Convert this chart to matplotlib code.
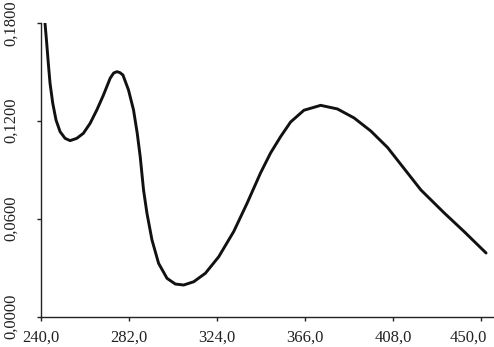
import matplotlib
matplotlib.use("Agg")
import matplotlib.pyplot as plt
import matplotlib.transforms as mtransforms

# Wavelength (nm) and absorbance
wavelength = [242.06, 242.87, 243.63, 244.45, 245.74, 247.31, 249.23, 251.62, 254.01, 257.21,
              260.36, 263.57, 266.77, 269.92, 273.13, 274.80, 276.33, 277.67, 279.20, 281.87,
              284.26, 286.03, 287.47, 289.04, 290.67, 293.06, 296.21, 300.23, 304.20, 308.17,
              312.95, 318.54, 324.89, 332.07, 338.47, 344.83, 349.61, 354.39, 359.17, 365.53,
              373.51, 381.49, 389.43, 397.41, 405.40, 414.95, 421.31, 432.45, 442.01, 452.39]
absorbance = [0.1796, 0.1674, 0.1551, 0.1429, 0.1307, 0.1204, 0.1133, 0.1092, 0.1078, 0.1092,
              0.1123, 0.1184, 0.1266, 0.1357, 0.1460, 0.1492, 0.1500, 0.1495, 0.1480, 0.1388,
              0.1266, 0.1123, 0.0978, 0.0776, 0.0633, 0.0470, 0.0327, 0.0235, 0.0200, 0.0194,
              0.0214, 0.0266, 0.0367, 0.0522, 0.0696, 0.0880, 0.1002, 0.1102, 0.1192, 0.1264,
              0.1294, 0.1272, 0.1217, 0.1137, 0.1036, 0.0880, 0.0776, 0.0635, 0.0520, 0.0390]

x_ticks = [240, 282, 324, 366, 408, 450]
x_labels = ["240,0", "282,0", "324,0", "366,0", "408,0", "450,0"]
y_ticks = [0.0, 0.06, 0.12, 0.18]
y_labels = ["0,0000", "0,0600", "0,1200", "0,1800"]

plt.rcParams['font.family'] = ['Liberation Serif', 'DejaVu Serif']

fig = plt.figure(figsize=(4.94, 3.47), dpi=100)
ax = fig.add_axes([0.0824, 0.0873, 0.998 - 0.0824, 0.9346 - 0.0873])

ax.plot(wavelength, absorbance, color='#111111', linewidth=2.1,
        solid_capstyle='round', solid_joinstyle='round')

ax.set_xlim(240, 455.7)
ax.set_ylim(0, 0.18)

ax.set_xticks(x_ticks)
ax.set_xticklabels(x_labels)
ax.set_yticks(y_ticks)
ax.set_yticklabels(y_labels, rotation=90, va='center')

for side in ['top', 'right']:
    ax.spines[side].set_visible(False)
for side in ['left', 'bottom']:
    ax.spines[side].set_linewidth(1.0)
    ax.spines[side].set_color('#222222')

ax.tick_params(axis='x', direction='out', length=3, width=1.0, pad=6.5,
               labelsize=12, colors='#222222')
ax.tick_params(axis='y', direction='out', length=3, width=1.0, pad=12.5,
               labelsize=12, colors='#222222')

# keep the last x label inside the picture, as in the reference
last = ax.get_xticklabels()[-1]
last.set_transform(last.get_transform() +
                   mtransforms.ScaledTranslation(-0.13, 0, fig.dpi_scale_trans))

fig.savefig("out.png", dpi=100)
